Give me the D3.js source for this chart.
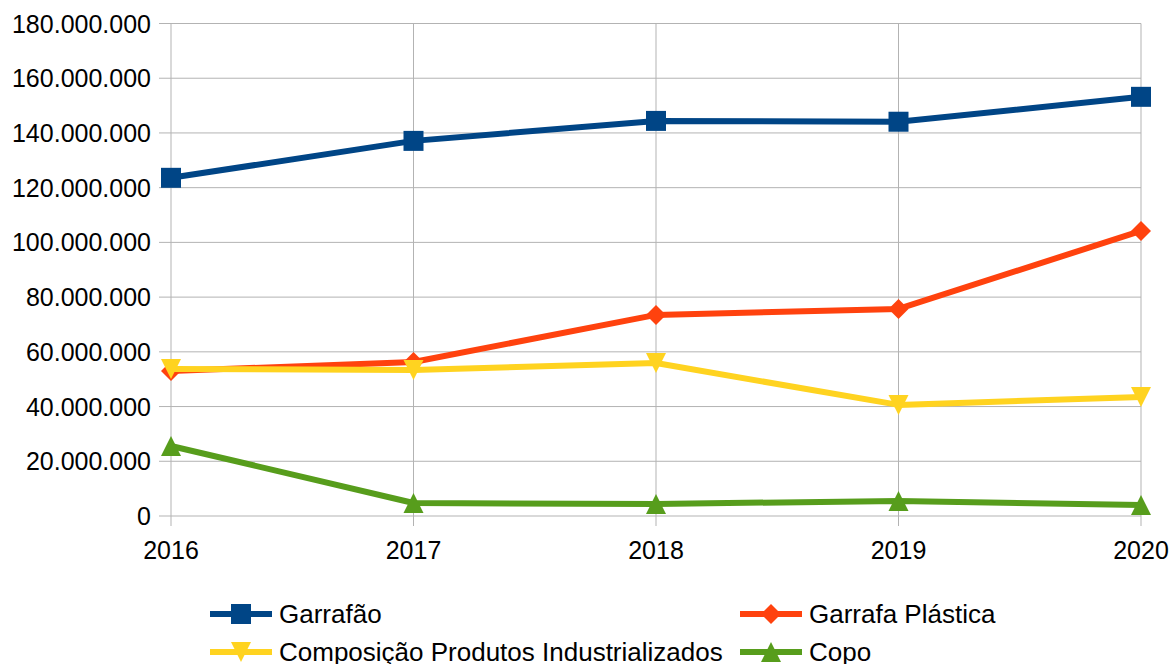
<!DOCTYPE html>
<html>
  <head>
    <meta charset="utf-8">
    <title></title>
    <style>
      body { margin: 0; background: #fff; }
      text { font-family: "Liberation Sans", Arial, sans-serif; fill: #000; }
    </style>
  </head>
  <body>
    <script src="https://cdn.jsdelivr.net/npm/d3@7"></script>
    <script>
      var years = ['2016', '2017', '2018', '2019', '2020'];
      var garrafao = [123600000, 137100000, 144400000, 144100000, 153200000];
      var garrafaPlastica = [53000000, 56300000, 73500000, 75700000, 104200000];
      var composicao = [53700000, 53400000, 55900000, 40600000, 43500000];
      var copo = [25600000, 4750000, 4400000, 5500000, 4000000];
      var yTicks = [0, 20000000, 40000000, 60000000, 80000000, 100000000, 120000000, 140000000, 160000000, 180000000];

      var series = [
        { name: 'Garrafão', values: garrafao, color: '#004586', symbol: 'square' },
        { name: 'Garrafa Plástica', values: garrafaPlastica, color: '#ff420e', symbol: 'diamond' },
        { name: 'Composição Produtos Industrializados', values: composicao, color: '#ffd320', symbol: 'down' },
        { name: 'Copo', values: copo, color: '#579d1c', symbol: 'up' }
      ];

      var width = 1173, height = 664;
      var plotLeft = 171, plotRight = 1141, plotTop = 23.5, plotBottom = 516;

      var svg = d3.select('body').append('svg')
        .attr('width', width)
        .attr('height', height);

      var x = d3.scalePoint().domain(years).range([plotLeft, plotRight]);
      var y = d3.scaleLinear().domain([0, 180000000]).range([plotBottom, plotTop]);

      // grade horizontal
      svg.append('g').selectAll('line').data(yTicks).enter().append('line')
        .attr('x1', plotLeft - 12).attr('x2', plotRight)
        .attr('y1', function(d) { return y(d); })
        .attr('y2', function(d) { return y(d); })
        .attr('stroke', '#b3b3b3').attr('stroke-width', 1);

      // linhas verticais
      svg.append('g').selectAll('line').data(years).enter().append('line')
        .attr('x1', function(d) { return x(d); })
        .attr('x2', function(d) { return x(d); })
        .attr('y1', plotTop).attr('y2', plotBottom + 10)
        .attr('stroke', '#b3b3b3').attr('stroke-width', 1);

      var fmt = function(d) { return d3.format(',')(d).replace(/,/g, '.'); };

      svg.append('g').selectAll('text').data(yTicks).enter().append('text')
        .attr('x', 151)
        .attr('y', function(d) { return y(d); })
        .attr('dy', '0.36em')
        .attr('text-anchor', 'end')
        .attr('font-size', '25px')
        .text(fmt);

      svg.append('g').selectAll('text').data(years).enter().append('text')
        .attr('x', function(d) { return x(d); })
        .attr('y', 559)
        .attr('text-anchor', 'middle')
        .attr('font-size', '25px')
        .text(function(d) { return d; });

      function symbolPath(type, s) {
        if (type === 'square') return 'M' + (-s) + ',' + (-s) + 'h' + (2 * s) + 'v' + (2 * s) + 'h' + (-2 * s) + 'Z';
        if (type === 'diamond') return 'M0,' + (-s) + 'L' + s + ',0L0,' + s + 'L' + (-s) + ',0Z';
        if (type === 'down') return 'M' + (-s) + ',' + (-s) + 'L' + s + ',' + (-s) + 'L0,' + s + 'Z';
        return 'M' + (-s) + ',' + s + 'L' + s + ',' + s + 'L0,' + (-s) + 'Z';
      }

      var line = d3.line()
        .x(function(d, i) { return x(years[i]); })
        .y(function(d) { return y(d); });

      series.forEach(function(s) {
        var g = svg.append('g');
        g.append('path')
          .attr('d', line(s.values))
          .attr('fill', 'none')
          .attr('stroke', s.color)
          .attr('stroke-width', 6)
          .attr('stroke-linejoin', 'round');
        g.selectAll('path.m').data(s.values).enter().append('path')
          .attr('class', 'm')
          .attr('transform', function(d, i) { return 'translate(' + x(years[i]) + ',' + y(d) + ')'; })
          .attr('d', symbolPath(s.symbol, 10))
          .attr('fill', s.color);
      });

      // legenda
      var legendPos = [[210, 614], [740, 614], [210, 652], [740, 652]];
      series.forEach(function(s, i) {
        var p = legendPos[i];
        var g = svg.append('g').attr('transform', 'translate(' + p[0] + ',' + p[1] + ')');
        g.append('line').attr('x1', 0).attr('x2', 62).attr('y1', 0).attr('y2', 0)
          .attr('stroke', s.color).attr('stroke-width', 6);
        g.append('path').attr('transform', 'translate(31,0)')
          .attr('d', symbolPath(s.symbol, 10)).attr('fill', s.color);
        g.append('text').attr('x', 69).attr('y', 0).attr('dy', '0.36em')
          .attr('font-size', '26px').text(s.name);
      });
    </script>
  </body>
</html>
